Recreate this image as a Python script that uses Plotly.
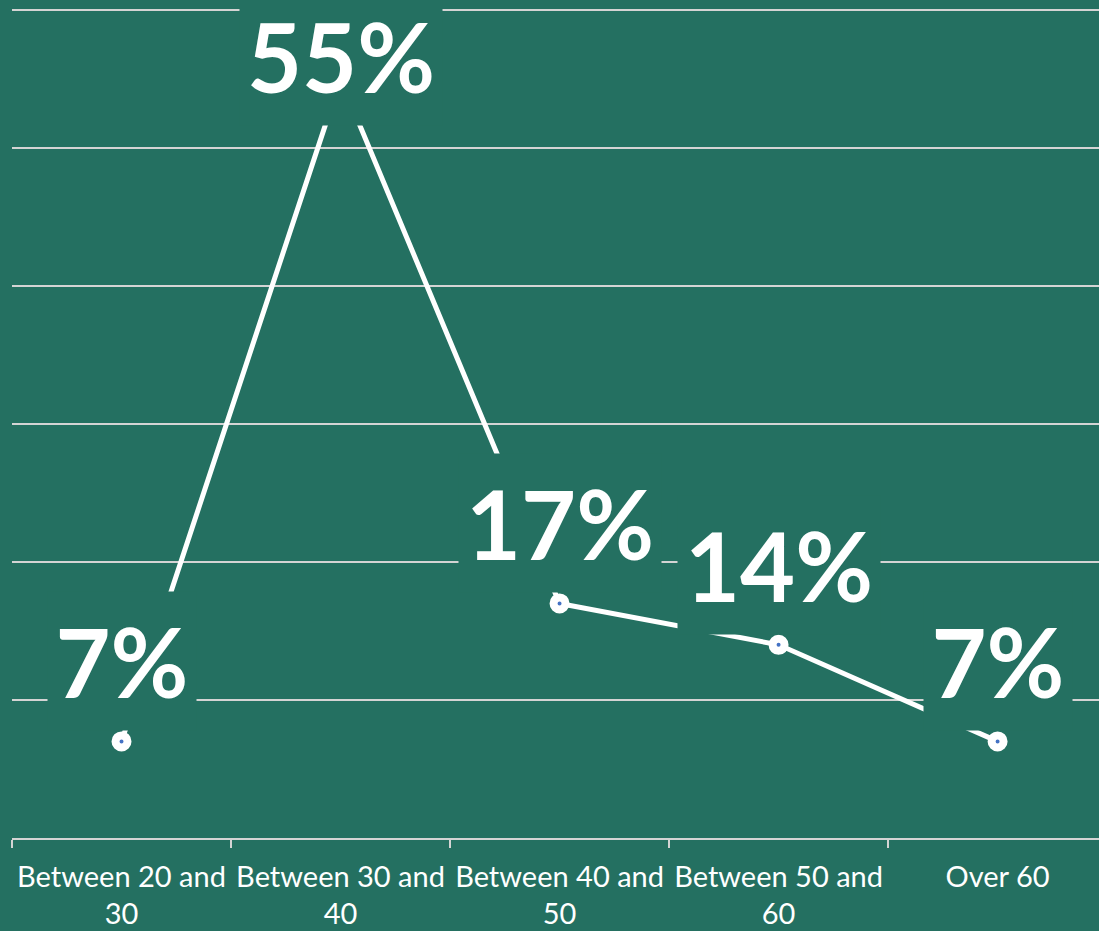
import plotly.graph_objects as go

categories = ["Between 20 and<br>30", "Between 30 and<br>40", "Between 40 and<br>50",
              "Between 50 and<br>60", "Over 60"]
values = [7, 55, 17, 14, 7]
labels = ["7%", "55%", "17%", "14%", "7%"]

BG = "#247061"
GRID = "#d4d4d4"
WHITE = "#ffffff"

fig = go.Figure()
fig.add_trace(go.Scatter(
    x=categories, y=values, mode="lines+markers",
    line=dict(color=WHITE, width=5),
    marker=dict(size=12, color="#4472C4", line=dict(color=WHITE, width=8)),
    hoverinfo="skip", showlegend=False, cliponaxis=False,
))

Y_TOP = 60.08
for cat, v, lab in zip(categories, values, labels):
    y_lab = min(v + 5.8, Y_TOP - 3.4)
    fig.add_annotation(
        x=cat, y=y_lab, xref="x", yref="y", text=f"<b>{lab}</b>",
        showarrow=False, xanchor="center", yanchor="middle",
        font=dict(family="Lato", size=95, color=WHITE, weight=900),
        bgcolor=BG, borderpad=0, width=54 * len(lab) + 40, height=138,
        align="center", valign="middle",
    )

fig.update_layout(
    width=1099, height=931,
    margin=dict(l=12, r=0, t=9, b=93),
    paper_bgcolor=BG, plot_bgcolor=BG,
    xaxis=dict(
        type="category", range=[-0.5, 4.463], tickson="boundaries",
        ticks="outside", ticklen=8, tickcolor=GRID, tickwidth=1.5,
        showline=True, linecolor=GRID, linewidth=1.5, showgrid=False,
        tickfont=dict(family="Lato", size=29, color=WHITE),
        ticklabelstandoff=12,
        zeroline=False, fixedrange=True,
    ),
    yaxis=dict(
        range=[0, Y_TOP], tick0=0, dtick=10, showgrid=True, gridcolor=GRID, gridwidth=1.5,
        showticklabels=False, zeroline=False, showline=False, ticks="", fixedrange=True,
    ),
)

fig.write_html("out.html")
